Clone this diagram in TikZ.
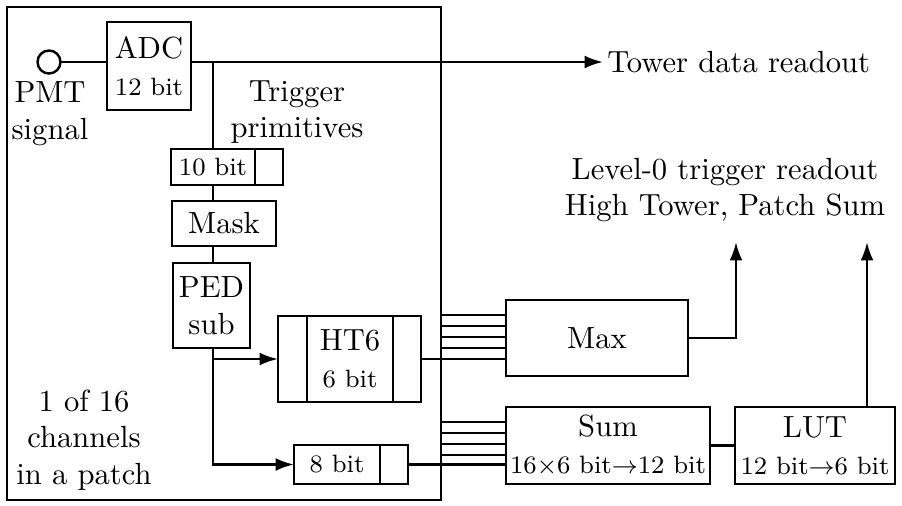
\documentclass[tikz,border=0pt]{standalone}
\usepackage{amsmath,amssymb}
\usepackage{tikz}
\usetikzlibrary{arrows.meta,positioning}
\newcommand{\pu}{0.3268pt}
\newcommand{\sm}{\fontsize{8.2}{10}\selectfont}

\begin{document}
\begin{tikzpicture}[x=\pu, y=-\pu, line width=0.8pt, >={Latex[length=6pt,width=4.2pt]},
    blk/.style={draw, inner sep=0pt, outer sep=0pt, align=center},
    txt/.style={align=center, inner sep=0pt}]
    \useasboundingbox (0,0) rectangle (902,505);
    % channel frame
    \node[blk, minimum width=434*\pu, minimum height=493*\pu] (chan) at (224,253.5) {};
    \node[blk, circle, minimum size=23*\pu] (pmt) at (49,62) {};
    \node[txt] (pmtlbl) at (50,114) {PMT\\signal};
    \node[blk, minimum width=84*\pu, minimum height=88*\pu] (adc) at (149,66) {ADC\\{\sm 12 bit}};
    \node[txt, anchor=west, inner sep=1pt] (tower) at (603,62) {Tower data readout};
    \node[txt] (trig) at (297,112) {Trigger\\primitives};
    \node[blk, minimum width=84*\pu, minimum height=36*\pu] (ten) at (213,167) {\sm 10 bit};
    \node[blk, minimum width=28*\pu, minimum height=36*\pu, right=0pt of ten] (tenx) {};
    \node[blk, minimum width=104*\pu, minimum height=45*\pu] (mask) at (224,223.5) {Mask};
    \node[blk, minimum width=77*\pu, minimum height=85*\pu] (ped) at (211.5,305.5) {PED\\sub};
    \node[blk, minimum width=86*\pu, minimum height=86*\pu] (ht) at (350,359) {HT6\\{\sm 6 bit}};
    \node[blk, minimum width=29*\pu, minimum height=86*\pu, left=0pt of ht] (htl) {};
    \node[blk, minimum width=28*\pu, minimum height=86*\pu, right=0pt of ht] (htr) {};
    \node[blk, minimum width=86*\pu, minimum height=39*\pu] (eight) at (337,464.5) {\sm 8 bit};
    \node[blk, minimum width=28*\pu, minimum height=39*\pu, right=0pt of eight] (eightx) {};
    \node[txt] (chl) at (84,440) {1 of 16\\channels\\in a patch};
    % patch level
    \node[blk, minimum width=182*\pu, minimum height=76*\pu] (max) at (597,338) {Max};
    \node[blk, minimum width=204*\pu, minimum height=77*\pu] (sum) at (608,445.5) {Sum\\{\sm 16$\times$6 bit$\rightarrow$12 bit}};
    \node[blk, minimum width=160*\pu, minimum height=77*\pu] (lut) at (815,445.5) {LUT\\{\sm 12 bit$\rightarrow$6 bit}};
    \node[txt] (lvl) at (725,190) {Level-0 trigger readout\\High Tower, Patch Sum};
    \coordinate (maxup) at (736,242);
    \coordinate (lutup) at (867,242);
    % connectors
    \draw (pmt) -- (adc.west |- pmt);
    \draw[->] (adc.east |- pmt) -- (tower.west);
    \draw (ten.north |- pmt) -- (ten.north);
    \draw (ten.south) -- (ten.south |- mask.north);
    \draw (ten.south |- mask.south) -- (ten.south |- ped.north);
    \draw[->] (ten.south |- ped.south) |- (eight.west);
    \draw[->] (ten.south |- htl.west) -- (htl.west);
    \draw (htr.east) -- (max.west |- htr.east);
    \draw (eightx.east) -- (sum.west |- eightx.east);
    \foreach \yb in {315,326,337,348}
        \draw (chan.east |- 0,\yb) -- (max.west |- 0,\yb);
    \foreach \yb in {422,433,444,455}
        \draw (chan.east |- 0,\yb) -- (sum.west |- 0,\yb);
    \draw[->] (max.east) -| (maxup);
    \draw (sum.east) -- (lut.west);
    \draw[->] (lut.north -| lutup) -- (lutup);
\end{tikzpicture}
\end{document}
